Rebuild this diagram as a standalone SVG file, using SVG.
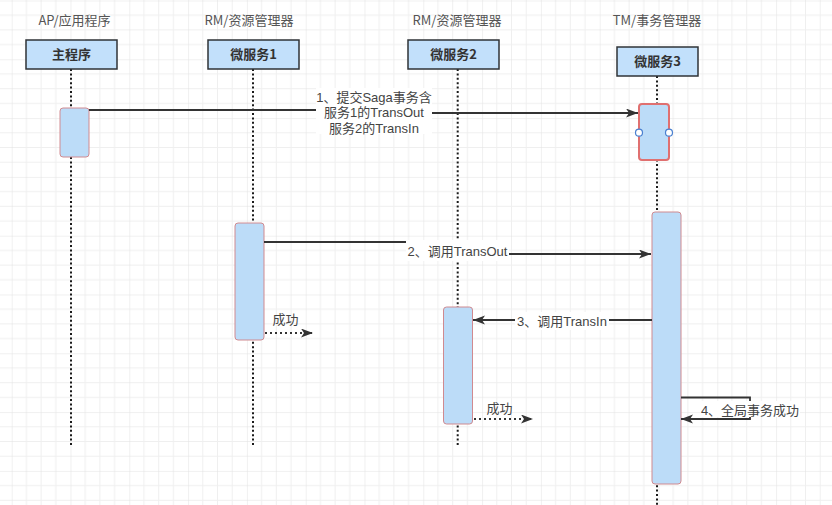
<svg xmlns="http://www.w3.org/2000/svg" width="832" height="505" viewBox="0 0 832 505">
<defs>
<pattern id="grid" patternUnits="userSpaceOnUse" x="11.7" y="0.5" width="58.8" height="58.8">
<path d="M14.7,0V58.8M29.4,0V58.8M44.1,0V58.8M0,14.7H58.8M0,29.4H58.8M0,44.1H58.8" stroke="#efefef" stroke-width="1" fill="none"/>
<path d="M0,0V58.8M0,0H58.8" stroke="#e2e2e2" stroke-width="1" fill="none"/>
</pattern>
<marker id="arr" markerUnits="userSpaceOnUse" markerWidth="14" markerHeight="10" refX="12" refY="4.5" orient="auto">
<path d="M0,0 L12,4.5 L0,9 L3,4.5 Z" fill="#333"/>
</marker>
</defs>
<style>
.title{font-family:"Noto Sans CJK SC","Liberation Sans",sans-serif;font-size:13px;fill:#555;text-anchor:middle}
.box{fill:#c2e0fb;stroke:#2f3337;stroke-width:1.5}
.blabel{font-family:"Noto Sans CJK SC","Liberation Sans",sans-serif;font-size:13px;font-weight:bold;fill:#333;text-anchor:middle}
.life{stroke:#1a1a1a;stroke-width:2;stroke-dasharray:2 2.4;fill:none}
.act{fill:#bcdcf8;stroke:#d08a90;stroke-width:1}
.msg{stroke:#333;stroke-width:1.8;fill:none}
.ret{stroke:#333;stroke-width:2;stroke-dasharray:2 3;fill:none}
.lbl{font-family:"Liberation Sans","Noto Sans CJK SC",sans-serif;font-size:13px;fill:#444;text-anchor:middle}
.lbg{fill:#fff}
</style>
<rect width="832" height="505" fill="#fff"/>
<rect width="832" height="505" fill="url(#grid)"/>

<g id="ap">
<text class="title" x="74.5" y="24.5">AP/应用程序</text>
<line class="life" x1="71" y1="69" x2="71" y2="447"/>
<rect class="box" x="26" y="40" width="91" height="29"/>
<text class="blabel" x="71.5" y="59">主程序</text>
<rect id="ap-act" class="act" x="60" y="108" width="29" height="49" rx="3"/>
</g>

<g id="svc1">
<text class="title" x="249" y="24.5">RM/资源管理器</text>
<line class="life" x1="253" y1="69" x2="253" y2="447"/>
<rect class="box" x="208" y="40" width="91" height="29"/>
<text class="blabel" x="253.5" y="59">微服务1</text>
<rect id="svc1-act" class="act" x="235" y="223" width="29" height="117" rx="3"/>
</g>

<g id="svc2">
<text class="title" x="457" y="24.5">RM/资源管理器</text>
<line class="life" x1="457.7" y1="69" x2="457.7" y2="446"/>
<rect class="box" x="408" y="40" width="91" height="29"/>
<text class="blabel" x="453.5" y="59">微服务2</text>
<rect id="svc2-act" class="act" x="443.5" y="307" width="29" height="117" rx="3"/>
</g>

<g id="tm">
<text class="title" x="657" y="24.5">TM/事务管理器</text>
<line class="life" x1="657" y1="76" x2="657" y2="505"/>
<rect class="box" x="617" y="47" width="81" height="29"/>
<text class="blabel" x="657.5" y="66">微服务3</text>
<rect id="tm-act1" x="639" y="104" width="30" height="56" rx="3" fill="#bcdcf8" stroke="#e07070" stroke-width="2"/>
<circle cx="639" cy="132.7" r="3.5" fill="#fff" stroke="#4a80d0" stroke-width="1.2"/>
<circle cx="669" cy="132.7" r="3.5" fill="#fff" stroke="#4a80d0" stroke-width="1.2"/>
<rect id="tm-act2" class="act" x="652" y="212" width="29" height="272" rx="3"/>
</g>

<g id="connectors">
<path class="msg" d="M89,110 H374 V113 H638" marker-end="url(#arr)"/>
<rect class="lbg" x="316" y="88" width="116" height="46"/>
<text class="lbl" x="374" y="101.5">1、提交Saga事务含</text>
<text class="lbl" x="374" y="117">服务1的TransOut</text>
<text class="lbl" x="374" y="132.5">服务2的TransIn</text>

<path class="msg" d="M264,242 H457 V254 H651" marker-end="url(#arr)"/>
<rect class="lbg" x="406" y="240" width="103" height="21"/>
<text class="lbl" x="457.5" y="255.5">2、调用TransOut</text>

<path class="ret" d="M265,333 H313" marker-end="url(#arr)"/>
<text class="lbl" x="285.5" y="324">成功</text>

<path class="msg" d="M652,320 H473" marker-end="url(#arr)"/>
<rect class="lbg" x="515" y="312" width="94" height="18"/>
<text class="lbl" x="562" y="325.5">3、调用TransIn</text>

<path class="ret" d="M474,419 H533" marker-end="url(#arr)"/>
<text class="lbl" x="499.5" y="412.5">成功</text>

<path class="msg" d="M681,397.5 H750 V419 H681" marker-end="url(#arr)"/>
<rect class="lbg" x="700" y="401" width="100" height="16"/>
<text class="lbl" x="750" y="414.5">4、全局事务成功</text>
</g>
</svg>
